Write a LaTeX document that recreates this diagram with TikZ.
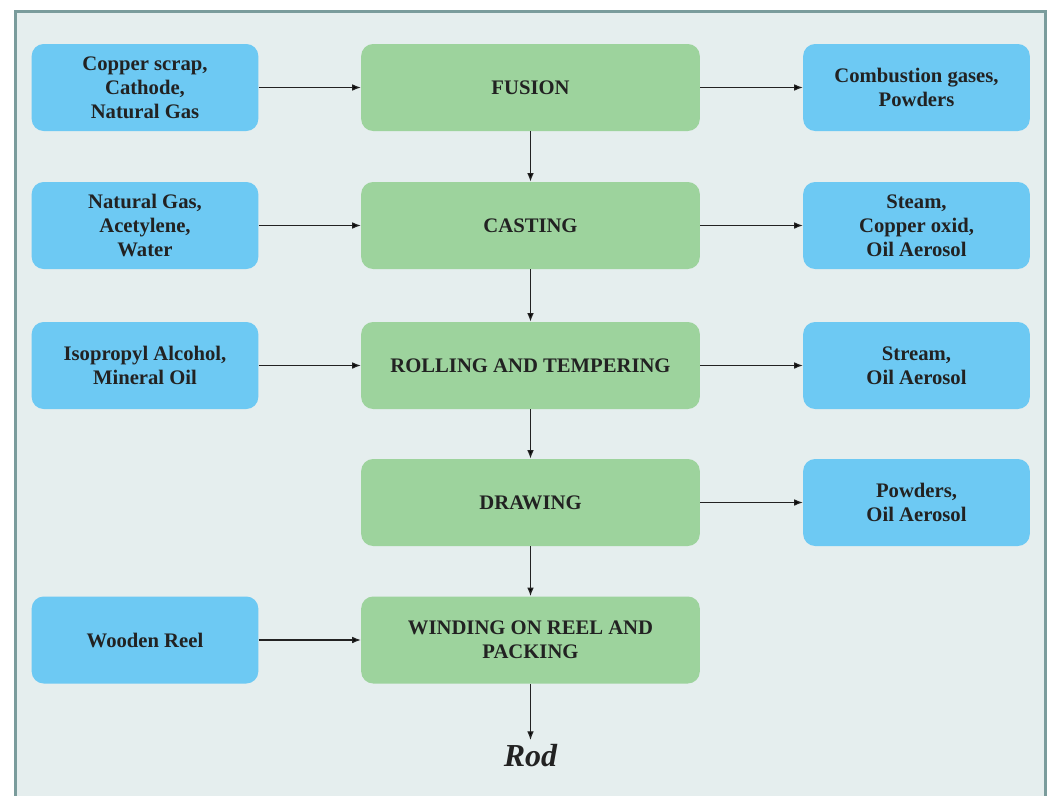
\documentclass[tikz,border=0pt]{standalone}
\usepackage{fontspec}
\setmainfont{Liberation Serif}
\usetikzlibrary{arrows.meta}
\definecolor{inblue}{HTML}{6DC9F3}
\definecolor{stepgreen}{HTML}{9DD39D}
\definecolor{panelbg}{HTML}{E5EEEE}
\definecolor{panelrule}{HTML}{7A9C9C}
\definecolor{inktext}{HTML}{222222}
\tikzset{
  flow node/.style={
    rounded corners=9pt,
    align=center,
    inner sep=0pt,
    minimum height=65.25pt,
    text=inktext,
    font=\fontsize{15.5}{18}\selectfont\bfseries,
  },
  side node/.style={
    flow node,
    fill=inblue,
    minimum width=170pt,
  },
  stage node/.style={
    flow node,
    fill=stepgreen,
    minimum width=254pt,
  },
  flow arrow/.style={
    -{Latex[length=6.5pt, width=5pt]},
    draw=inktext,
    line width=0.9pt,
  },
}

\begin{document}
\begin{tikzpicture}[x=0.75pt, y=-0.75pt]
      \useasboundingbox (0,0) rectangle (1050,796);
      \fill[panelbg] (15.5,11.5) rectangle (1045.5,800);
      \draw[panelrule, line width=2.25pt] (15.5,800) -- (15.5,11.5) -- (1045.5,11.5) -- (1045.5,800);

      \node[side node] (in1) at (145,87.5)  {Copper scrap,\\Cathode,\\Natural Gas};
      \node[side node] (in2) at (145,225.5) {Natural Gas,\\Acetylene,\\Water};
      \node[side node] (in3) at (145,365.5) {Isopropyl Alcohol,\\Mineral Oil};
      \node[side node] (in5) at (145,640)   {Wooden Reel};

      \node[stage node] (fusion)  at (530.5,87.5)  {FUSION};
      \node[stage node] (casting) at (530.5,225.5) {CASTING};
      \node[stage node] (rolling) at (530.5,365.5) {ROLLING AND TEMPERING};
      \node[stage node] (drawing) at (530.5,502.5) {DRAWING};
      \node[stage node] (winding) at (530.5,640)   {WINDING ON REEL AND\\PACKING};

      \node[side node] (out1) at (916.5,87.5)  {Combustion gases,\\Powders};
      \node[side node] (out2) at (916.5,225.5) {Steam,\\Copper oxid,\\Oil Aerosol};
      \node[side node] (out3) at (916.5,365.5) {Stream,\\Oil Aerosol};
      \node[side node] (out4) at (916.5,502.5) {Powders,\\Oil Aerosol};

      \node[text=inktext, font=\fontsize{24}{28}\selectfont\bfseries\itshape] (rod) at (530.5,756) {Rod};

      \path[flow arrow] (in1) edge (fusion);
      \path[flow arrow] (in2) edge (casting);
      \path[flow arrow] (in3) edge (rolling);
      \path[flow arrow] (in5) edge (winding);

      \path[flow arrow] (fusion)  edge (out1);
      \path[flow arrow] (casting) edge (out2);
      \path[flow arrow] (rolling) edge (out3);
      \path[flow arrow] (drawing) edge (out4);

      \path[flow arrow] (fusion)  edge (casting);
      \path[flow arrow] (casting) edge (rolling);
      \path[flow arrow] (rolling) edge (drawing);
      \path[flow arrow] (drawing) edge (winding);
      \path[flow arrow] (winding) edge (rod);
    \end{tikzpicture}
\end{document}
